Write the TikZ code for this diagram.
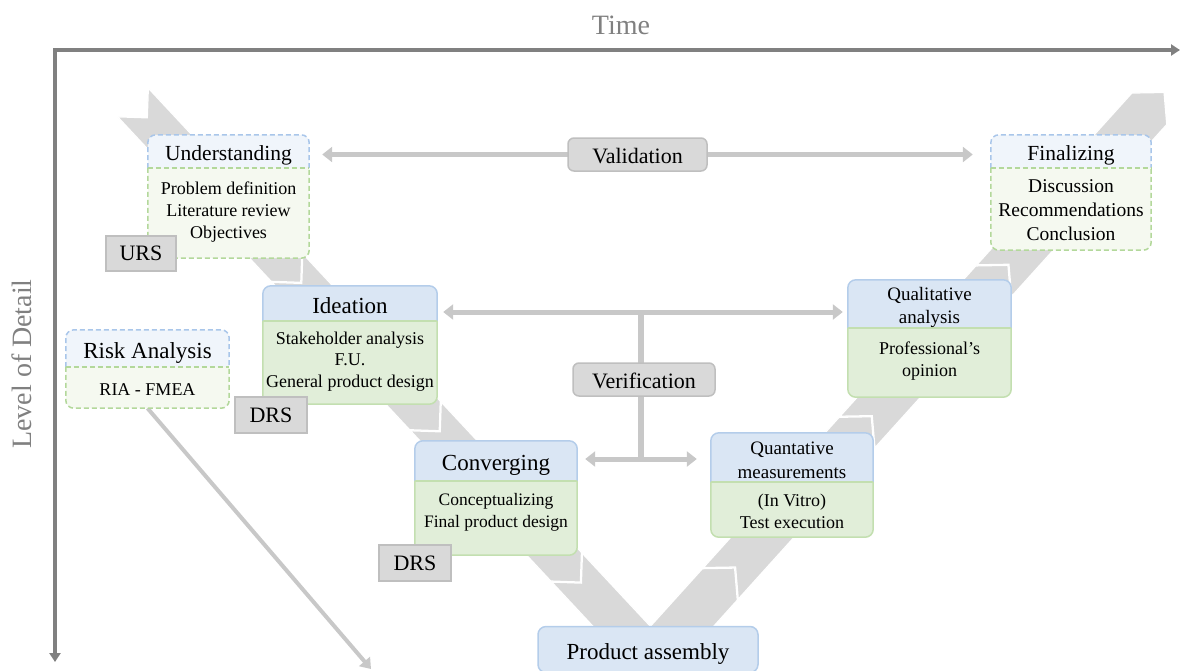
\documentclass[tikz,border=0pt]{standalone}
\usepackage{fontspec}
\setmainfont{Liberation Serif}
\usetikzlibrary{calc,arrows.meta}
\pgfdeclarelayer{bg}
\pgfdeclarelayer{mid}
\pgfsetlayers{bg,mid,main}
\definecolor{axisgray}{HTML}{808080}
\definecolor{chevgray}{HTML}{D9D9D9}
\definecolor{boxgray}{HTML}{D9D9D9}
\definecolor{boxgrayline}{HTML}{BFBFBF}
\definecolor{arrgray}{HTML}{C8C8C8}
\definecolor{hfill}{HTML}{DAE6F4}
\definecolor{hline}{HTML}{B4CDEA}
\definecolor{bfill}{HTML}{E1EED9}
\definecolor{bline}{HTML}{C3DFB0}
\definecolor{hfillL}{HTML}{F0F5FB}
\definecolor{bfillL}{HTML}{F5F9F0}
\definecolor{hlineD}{HTML}{A9C6EA}
\definecolor{blineD}{HTML}{B3D89B}
% chevron segment: origin, dir, normal, halfwidth, depth, t0, t1
\newcommand{\chevseg}[7]{%
 \filldraw[chev] ($(#1)+#6*(#2)+#4*(#3)$) -- ($(#1)+#7*(#2)-#5*(#2)+#4*(#3)$) -- ($(#1)+#7*(#2)$) -- ($(#1)+#7*(#2)-#5*(#2)-#4*(#3)$) -- ($(#1)+#6*(#2)-#4*(#3)$) -- ($(#1)+#6*(#2)+#5*(#2)$) -- cycle;}
% two-part box: header node, body node, header style, body style
\newcommand{\partbox}[4]{%
 \filldraw[#3, rounded corners=8pt] (#1.south west) -- (#1.north west) -- (#1.north east) -- (#1.south east);
 \filldraw[#4, rounded corners=8pt] (#2.north west) -- (#2.south west) -- (#2.south east) -- (#2.north east);
 \draw[#4] (#2.north west) -- (#2.north east);}
\begin{document}
\begin{tikzpicture}[x=1pt,y=-1pt,
  every node/.style={inner sep=0pt},
  chev/.style={fill=chevgray, draw=white, line width=1.2pt, line join=miter},
  dblarr/.style={draw=arrgray, line width=5pt, >={Triangle[length=10pt,width=15pt]}, <->},
  sglarr/.style={draw=arrgray, line width=4pt, >={Triangle[length=10pt,width=14pt]}, ->},
  axisline/.style={draw=axisgray, line width=3.5pt, line join=miter, >={Triangle[length=9pt,width=11pt]}, <->},
  axistext/.style={text=axisgray, font=\fontsize{28}{32}\selectfont},
  hdrD/.style={fill=hfillL, draw=hlineD, line width=1.5pt, dash pattern=on 5pt off 3pt},
  bodD/.style={fill=bfillL, draw=blineD, line width=1.5pt, dash pattern=on 5pt off 3pt},
  hdrS/.style={fill=hfill, draw=hline, line width=1.5pt},
  bodS/.style={fill=bfill, draw=bline, line width=1.5pt},
  graybox/.style={draw=boxgrayline, fill=boxgray, line width=1.5pt, font=\fontsize{22}{26}\selectfont},
  txt/.style={align=center},
  hA/.style={font=\fontsize{21.5}{25}\selectfont, text height=23pt, text depth=5pt},
  hB/.style={font=\fontsize{23}{27}\selectfont, text height=24pt, text depth=5pt},
]
\useasboundingbox (0,0) rectangle (1180,670);

% ---------- axes ----------
\coordinate (corner) at (55,50);
\coordinate (xEnd) at (1180,50);
\coordinate (yEnd) at (55,662);
\draw[axisline] (yEnd) -- (corner) -- (xEnd);
\node[axistext] (time) at (621,25) {Time};
\node[axistext, rotate=90] (lod) at (22,364) {Level of Detail};

% ---------- nodes ----------
% Understanding
\node[hA, minimum width=161pt, minimum height=33pt] (undH) at (228.5,151.5) {Understanding};
\node[minimum width=161pt, minimum height=90pt] (undB) at (228.5,213) {};
\node[txt, font=\fontsize{18}{22}\selectfont] (undT) at (228.5,212) {Problem definition\\Literature review\\Objectives};
% Finalizing
\node[hA, minimum width=160pt, minimum height=33pt] (finH) at (1071,151.5) {Finalizing};
\node[minimum width=160pt, minimum height=82pt] (finB) at (1071,209) {};
\node[txt, font=\fontsize{19.5}{24}\selectfont] (finT) at (1071,210) {Discussion\\Recommendations\\Conclusion};
% Risk analysis
\node[hB, minimum width=163pt, minimum height=37pt] (riskH) at (147.5,348.5) {Risk Analysis};
\node[minimum width=163pt, minimum height=41pt] (riskB) at (147.5,387.5) {};
\node[txt, font=\fontsize{18}{22}\selectfont] (riskT) at (147.5,390) {RIA - FMEA};
% Ideation
\node[hB, minimum width=174pt, minimum height=35pt] (ideaH) at (350,303.5) {Ideation};
\node[minimum width=174pt, minimum height=83pt] (ideaB) at (350,362.5) {};
\node[txt, font=\fontsize{18}{21.5}\selectfont] (ideaT) at (350,361.5) {Stakeholder analysis\\F.U.\\General product design};
% Qualitative
\node[minimum width=163pt, minimum height=48pt] (qualH) at (929.5,304) {};
\node[txt, font=\fontsize{19}{23}\selectfont] (qualHT) at (929.5,307) {Qualitative\\analysis};
\node[minimum width=163pt, minimum height=69pt] (qualB) at (929.5,362.5) {};
\node[txt, font=\fontsize{18}{22}\selectfont] (qualT) at (929.5,361) {Professional’s\\opinion};
% Converging
\node[hB, minimum width=162pt, minimum height=40pt] (convH) at (496,461) {Converging};
\node[minimum width=162pt, minimum height=74pt] (convB) at (496,518) {};
\node[txt, font=\fontsize{17.5}{22}\selectfont] (convT) at (496,512) {Conceptualizing\\Final product design};
% Quantative
\node[minimum width=162pt, minimum height=49pt] (quanH) at (792,457.5) {};
\node[txt, font=\fontsize{19}{24}\selectfont] (quanHT) at (792,460.5) {Quantative\\measurements};
\node[minimum width=162pt, minimum height=55pt] (quanB) at (792,509.5) {};
\node[txt, font=\fontsize{18}{22}\selectfont] (quanT) at (792,511.5) {(In Vitro)\\Test execution};
% Product assembly
\node[hB, draw=hline, fill=hfill, line width=1.5pt, rounded corners=8pt, minimum width=220pt, minimum height=46pt] (prod) at (648,649.5) {Product assembly};
% labels
\node[graybox, minimum width=70pt, minimum height=35pt] (urs) at (141,253.5) {URS};
\node[graybox, minimum width=72pt, minimum height=36pt] (drsA) at (271,415) {DRS};
\node[graybox, minimum width=72pt, minimum height=36pt] (drsB) at (415,563) {DRS};
\node[graybox, text height=18pt, text depth=0pt, rounded corners=6pt, minimum width=139pt, minimum height=33pt] (val) at (637.5,154.5) {Validation};
\node[graybox, text height=18pt, text depth=0pt, rounded corners=6pt, minimum width=142pt, minimum height=33pt] (ver) at (644,379.5) {Verification};

\coordinate (vtop) at (641,312);
\coordinate (vbot) at (641,459);
\coordinate (riskEnd) at (371,669);

% ---------- background: V chevrons and connectors ----------
\begin{pgfonlayer}{bg}
\coordinate (OL) at (133,102.5);
\coordinate (dL) at (0.682,0.731);
\coordinate (nL) at (0.731,-0.682);
\chevseg{OL}{dL}{nL}{21}{21}{0}{246}
\chevseg{OL}{dL}{nL}{21}{21}{226.5}{449}
\chevseg{OL}{dL}{nL}{21}{21}{429.5}{656}
\chevseg{OL}{dL}{nL}{21}{21}{636.5}{770}
\coordinate (OR) at (661.55,648.97);
\coordinate (dR) at (0.670,-0.742);
\coordinate (nR) at (0.742,0.670);
\chevseg{OR}{dR}{nR}{23.5}{22}{0}{109}
\chevseg{OR}{dR}{nR}{23.5}{22}{88.5}{313}
\chevseg{OR}{dR}{nR}{23.5}{22}{292.5}{517}
\chevseg{OR}{dR}{nR}{23.5}{22}{496.5}{750}
% connectors
\draw[dblarr, shorten <=13pt, shorten >=18pt] (undH.east |- val.center) -- (finH.west |- val.center);
\draw[dblarr, shorten <=6pt, shorten >=5pt] (ideaH.east |- vtop) -- (qualH.west |- vtop);
\draw[dblarr, shorten <=8pt, shorten >=14pt] (convH.east |- vbot) -- (quanH.west |- vbot);
\draw[draw=arrgray, line width=6pt] (vtop) -- (vbot);
\draw[sglarr] (riskB.south) -- (riskEnd);
\end{pgfonlayer}

% ---------- box fills ----------
\begin{pgfonlayer}{mid}
\partbox{undH}{undB}{hdrD}{bodD}
\partbox{finH}{finB}{hdrD}{bodD}
\partbox{riskH}{riskB}{hdrD}{bodD}
\partbox{ideaH}{ideaB}{hdrS}{bodS}
\partbox{qualH}{qualB}{hdrS}{bodS}
\partbox{convH}{convB}{hdrS}{bodS}
\partbox{quanH}{quanB}{hdrS}{bodS}
\end{pgfonlayer}
\end{tikzpicture}
\end{document}
